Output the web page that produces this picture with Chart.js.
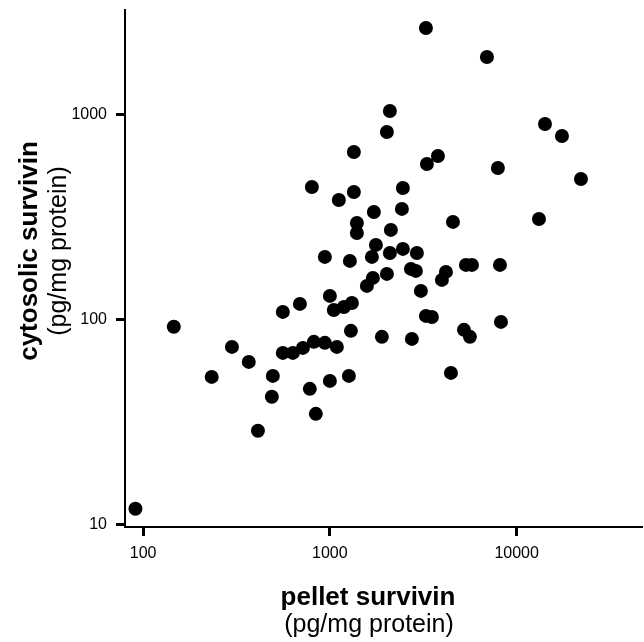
<!DOCTYPE html>
<html>
<head>
<meta charset="utf-8">
<script src="https://cdn.jsdelivr.net/npm/chart.js@4/dist/chart.umd.min.js"></script>
<style>
  html, body { margin: 0; padding: 0; background: #fff; }
  canvas { display: block; }
</style>
</head>
<body>
<canvas id="chart" width="644" height="642"></canvas>
<script>
// pellet survivin (x) and cytosolic survivin (y), pg/mg protein
const pelletSurvivin = [
    91, 146, 233, 299, 368, 495, 489, 412, 560, 634,
    717, 821, 940, 1090, 781, 841, 1000, 1264, 1296, 1899,
    2749, 4448, 5221, 5622, 8240, 3268, 3518, 3072, 691, 1000,
    1050, 1189, 1312, 560, 1578, 1699, 2020, 2716, 2888, 3980,
    4182, 5351, 5763, 8139, 940, 1280, 1679, 1764, 2096, 2460,
    2924, 2121, 1395, 1395, 1720, 2430, 4560, 13165, 801, 1117,
    1344, 2460, 1344, 3308, 3789, 7937, 22100, 14180, 17480, 2096,
    2020, 3268, 6932,
];
const cytosolicSurvivin = [
    11.9, 92, 52.4, 73.4, 62, 53, 41.9, 28.6, 68.6, 68.6,
    72.6, 77.7, 76.8, 73.4, 45.8, 34.6, 50.1, 53, 87.9, 82.2,
    80.3, 54.8, 88.9, 82.2, 97.2, 104, 102.8, 137.7, 119, 130.2,
    111.2, 115, 120.3, 108.8, 145.7, 159.4, 166.7, 176.3, 172.4, 155.8,
    170.5, 184.5, 184.5, 184.5, 201.8, 192.9, 201.8, 230.9, 211, 220.8,
    211, 273.3, 295.6, 264.2, 334.5, 346, 299, 309.2, 442.9, 382.7,
    418.8, 438, 656.5, 573.6, 627.6, 548.3, 484.6, 898.8, 785.6, 1040,
    821.4, 2642, 1908,
];

const xTicks = [100, 1000, 10000];
const yTicks = [10, 100, 1000];
const xTitle = ["pellet survivin", "(pg/mg protein)"];
const yTitle = ["cytosolic survivin", "(pg/mg protein)"];

const FONT = "'Liberation Sans', Arial, sans-serif";

// two-line axis titles: first line bold, second regular
const axisTitles = {
    id: "axisTitles",
    afterDraw(chart) {
        const ctx = chart.ctx;
        ctx.save();
        ctx.fillStyle = "#000";
        ctx.textAlign = "center";
        ctx.textBaseline = "alphabetic";

        ctx.font = `bold 26px ${FONT}`;
        ctx.fillText(xTitle[0], 368, 605);
        ctx.font = `25px ${FONT}`;
        ctx.fillText(xTitle[1], 369, 632);

        ctx.translate(0, 251);
        ctx.rotate(-Math.PI / 2);
        ctx.font = `bold 26px ${FONT}`;
        ctx.fillText(yTitle[0], 0, 37);
        ctx.font = `25px ${FONT}`;
        ctx.fillText(yTitle[1], 0, 66);
        ctx.restore();
    },
};

const axisStyle = {
    grid: {
        drawOnChartArea: false,
        drawTicks: true,
        tickLength: 9,
        tickWidth: 3,
        tickColor: "#000",
    },
    border: { display: true, color: "#000", width: 2 },
};

new Chart(document.getElementById("chart"), {
    type: "scatter",
    data: {
        datasets: [
            {
                data: pelletSurvivin.map((x, i) => ({ x, y: cytosolicSurvivin[i] })),
                backgroundColor: "#000",
                borderWidth: 0,
                pointRadius: 7,
            },
        ],
    },
    options: {
        responsive: false,
        animation: false,
        devicePixelRatio: 1,
        layout: { autoPadding: false, padding: { top: 10, right: 2, left: 0, bottom: 0 } },
        plugins: {
            legend: { display: false },
            tooltip: { enabled: false },
        },
        scales: {
            x: {
                type: "logarithmic",
                position: "bottom",
                min: 80,
                max: 46900,
                ...axisStyle,
                ticks: {
                    color: "#000",
                    padding: 8,
                    font: { family: FONT, size: 16 },
                    callback: (v) => String(v),
                },
                afterBuildTicks: (axis) => {
                    axis.ticks = xTicks.map((value) => ({ value }));
                },
                afterFit: (axis) => {
                    axis.height = 115;
                    axis.paddingLeft = 0;
                    axis.paddingRight = 0;
                },
            },
            y: {
                type: "logarithmic",
                position: "left",
                min: 9.7,
                max: 3235,
                ...axisStyle,
                ticks: {
                    color: "#000",
                    padding: 9,
                    font: { family: FONT, size: 16 },
                    callback: (v) => String(v),
                },
                afterBuildTicks: (axis) => {
                    axis.ticks = yTicks.map((value) => ({ value }));
                },
                afterFit: (axis) => {
                    axis.width = 125;
                    axis.paddingTop = 0;
                    axis.paddingBottom = 0;
                },
            },
        },
    },
    plugins: [axisTitles],
});
</script>
</body>
</html>
